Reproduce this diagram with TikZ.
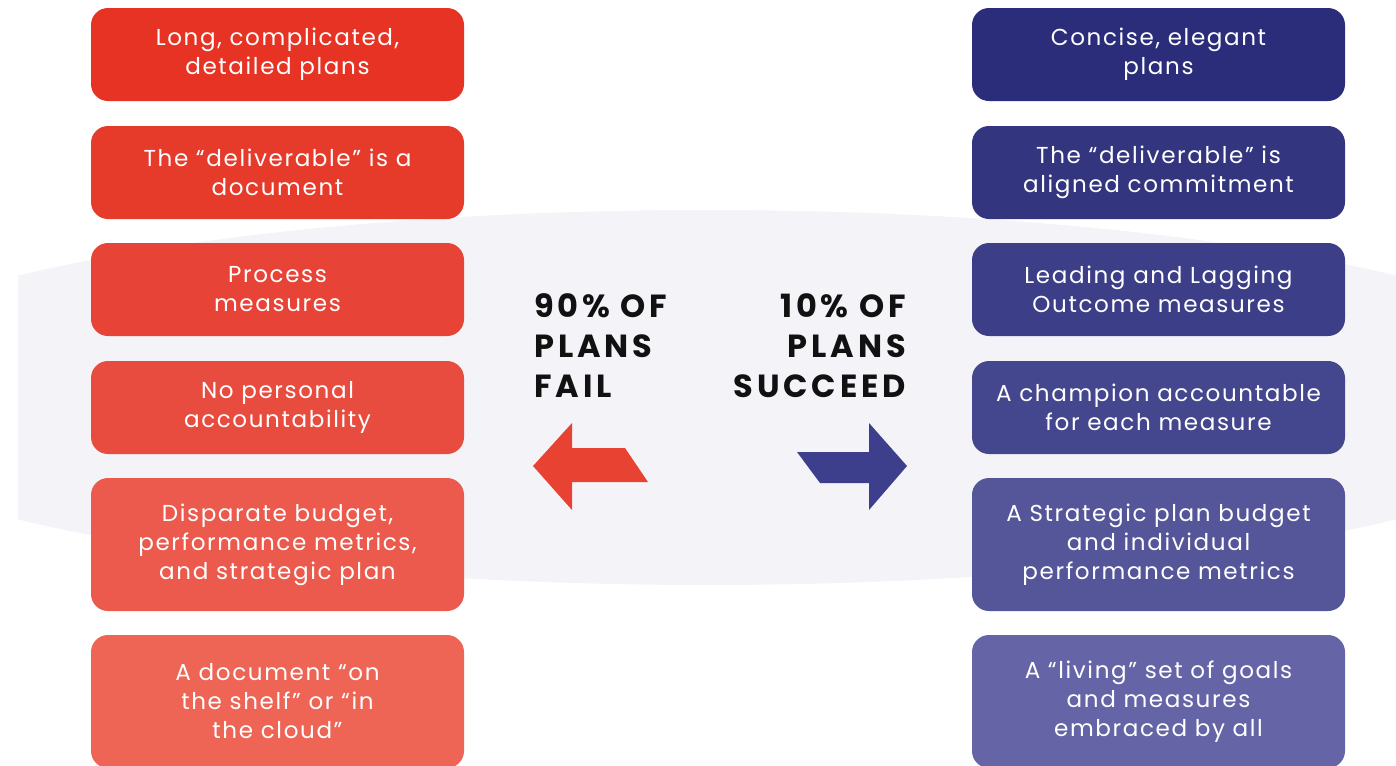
\documentclass[tikz,border=0pt]{standalone}
\usepackage{fontspec}
\setmainfont{Poppins}
\newfontfamily\boxfam{Poppins}[LetterSpace=7]
\newfontfamily\headfam{Poppins}[LetterSpace=12]
\definecolor{bandgray}{HTML}{F4F4F8}
\definecolor{rA}{HTML}{E63323}
\definecolor{rB}{HTML}{E63A2B}
\definecolor{rC}{HTML}{E74336}
\definecolor{rD}{HTML}{E84C3F}
\definecolor{rE}{HTML}{EB5A4C}
\definecolor{rF}{HTML}{EE6556}
\definecolor{bA}{HTML}{2B2D7A}
\definecolor{bB}{HTML}{33357F}
\definecolor{bC}{HTML}{3C3E88}
\definecolor{bD}{HTML}{45478E}
\definecolor{bE}{HTML}{55559A}
\definecolor{bF}{HTML}{6464A6}
\definecolor{redarrow}{HTML}{E84332}
\definecolor{bluearrow}{HTML}{3E3F8C}
\definecolor{headtext}{HTML}{111111}
\tikzset{
  planbox/.style={rounded corners=12.75pt, minimum width=279.75pt, text width=270pt,
    align=center, text=white, inner sep=0pt,
    font=\boxfam\fontsize{17.3}{21.75}\selectfont},
  shortbox/.style={planbox, minimum height=69.75pt},
  tallbox/.style={planbox, minimum height=99.75pt},
  headline/.style={inner sep=0pt, text=headtext,
    font=\headfam\bfseries\fontsize{24}{30}\selectfont}
}
\begin{document}
\begin{tikzpicture}[x=0.75pt,y=-0.75pt]
\useasboundingbox (0,0) rectangle (1396,765);
\begin{scope}
  \clip (18,0) rectangle (1396,765);
  \fill[bandgray] (707,397.5) ellipse [x radius=907, y radius=187.5];
\end{scope}

% left column
\node[shortbox, fill=rA] (l1) at (277.5,54.5) {Long, complicated,\\detailed plans};
\node[shortbox, fill=rB] (l2) at (277.5,172.5) {The “deliverable” is a\\document};
\node[shortbox, fill=rC] (l3) at (277.5,289.5) {Process\\measures};
\node[shortbox, fill=rD] (l4) at (277.5,407.5) {No personal\\accountability};
\node[tallbox, fill=rE] (l5) at (277.5,544.5) {Disparate budget,\\performance metrics,\\and strategic plan};
\node[tallbox, fill=rF] (l6) at (277.5,701.5) {A document “on\\the shelf” or “in\\the cloud”};

% right column
\node[shortbox, fill=bA] (r1) at (1158.5,54.5) {Concise, elegant\\plans};
\node[shortbox, fill=bB] (r2) at (1158.5,172.5) {The “deliverable” is\\aligned commitment};
\node[shortbox, fill=bC] (r3) at (1158.5,289.5) {Leading and Lagging\\Outcome measures};
\node[shortbox, fill=bD] (r4) at (1158.5,407.5) {A champion accountable\\for each measure};
\node[tallbox, fill=bE] (r5) at (1158.5,544.5) {A Strategic plan budget\\and individual\\performance metrics};
\node[tallbox, fill=bF] (r6) at (1158.5,701.5) {A “living” set of goals\\and measures\\embraced by all};

% headlines
\node[headline, anchor=north west, align=left] (fail) at (534,293) {90\% OF\\PLANS\\FAIL};
\node[headline, anchor=north east, align=right] (succ) at (906,293) {10\% OF\\PLANS\\SUCCEED};

% arrows
\fill[redarrow] (533,466) -- (572,423) -- (572,448) -- (625,448) -- (648,482)
  -- (572,482) -- (572,510) -- cycle;
\fill[bluearrow] (907,466) -- (869,423) -- (869,452) -- (797,452) -- (820,483)
  -- (869,483) -- (869,510) -- cycle;
\end{tikzpicture}
\end{document}
